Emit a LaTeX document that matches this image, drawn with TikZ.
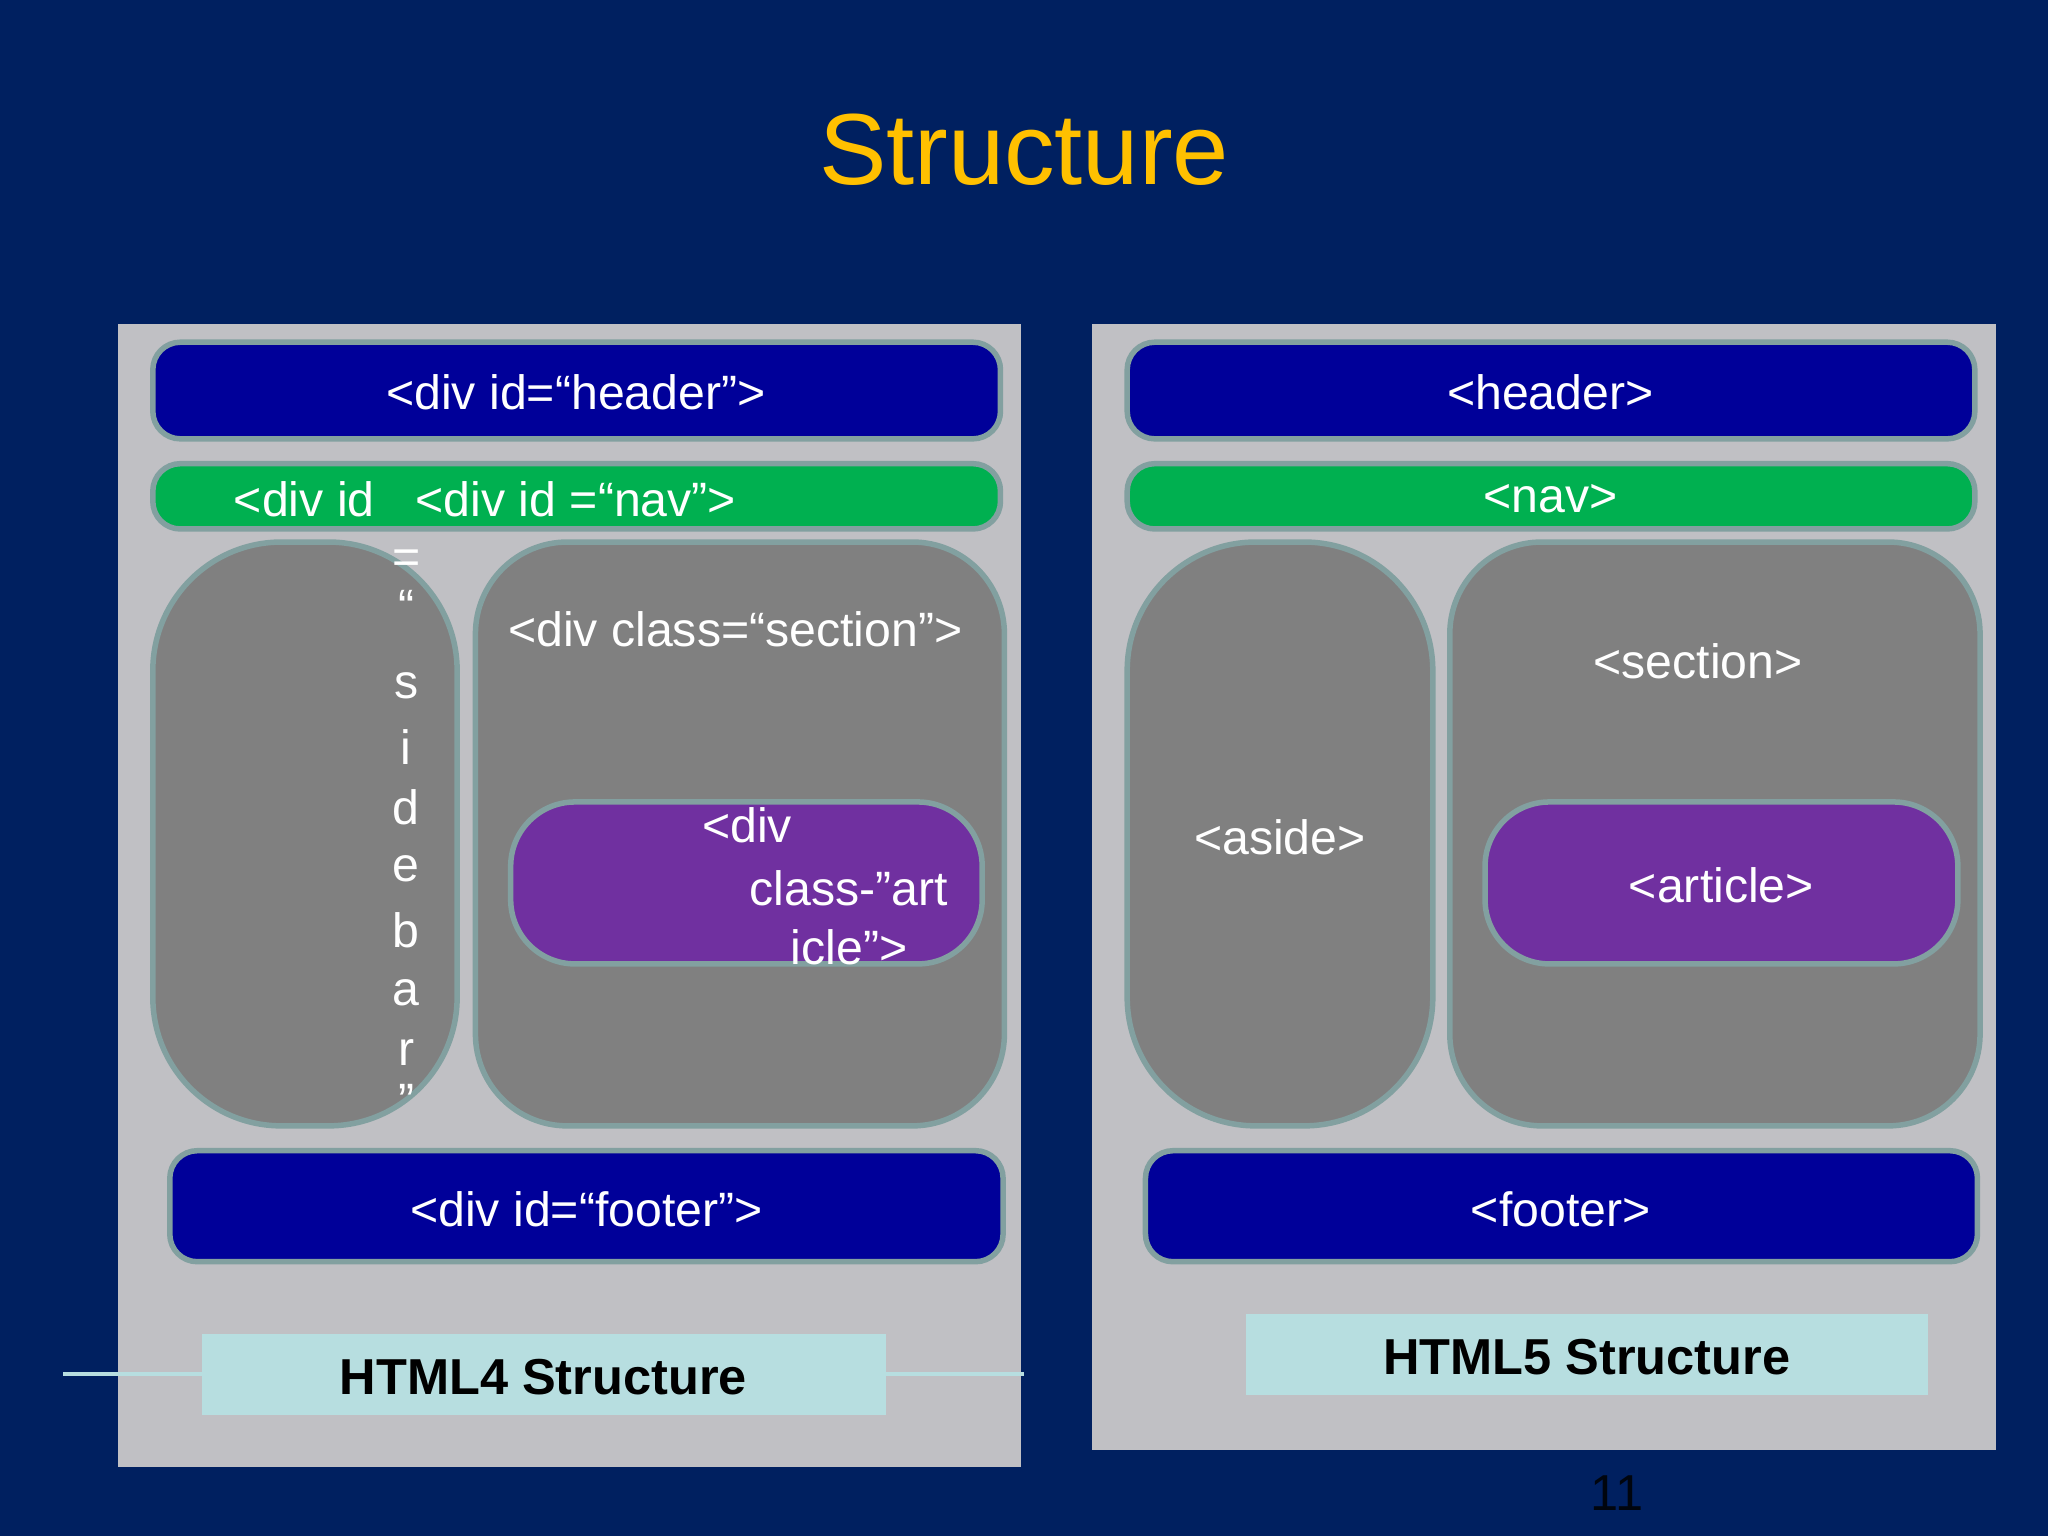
\documentclass[tikz,border=0pt]{standalone}
\usepackage{fontspec}
\setmainfont{Liberation Sans}
\begin{document}
\begin{tikzpicture}[x=0.01cm,y=-0.01cm,
 box/.style={draw=bd,line width=1.2pt,rounded corners=6pt,text=white,font=\fontsize{10.5}{12}\selectfont},
 panel/.style={fill=pan},
 lab/.style={fill=lab,font=\bfseries\fontsize{11}{13}\selectfont,text=black},
 t/.style={text=white,font=\fontsize{10.5}{12}\selectfont,inner sep=0pt}]
\definecolor{bg}{RGB}{0,32,96}
\definecolor{pan}{RGB}{192,192,196}
\definecolor{db}{RGB}{0,0,153}
\definecolor{gr}{RGB}{0,176,80}
\definecolor{gy}{RGB}{128,128,128}
\definecolor{pu}{RGB}{112,48,160}
\definecolor{lab}{RGB}{183,222,224}
\definecolor{bd}{RGB}{130,160,160}
\definecolor{yl}{RGB}{255,192,0}
\fill[bg] (0,0) rectangle (1568,1176);
\useasboundingbox (0,0) rectangle (1568,1176);
\node[text=yl,font=\fontsize{22}{26}\selectfont] (title) at (784,115) {Structure};
% left
\fill[panel] (90,248) rectangle (782,1123);
\draw[box,fill=db] (117,262) rectangle (766,336);
\node[t] (h4) at (441,300) {<div id=“header”>};
\draw[box,fill=gr] (117,355) rectangle (766,405);
\node[t] (n4a) at (233,382) {<div id};
\node[t] (n4b) at (441,382) {<div id =“nav”>};
\draw[box,fill=gy,rounded corners=28pt] (117,415) rectangle (350,862);
\draw[box,fill=gy,rounded corners=20pt] (364,415) rectangle (769,862);
\node[t] (s4) at (563,482) {<div class=“section”>};
\foreach \c/\y [count=\i] in {=/430,“/465,s/525,i/572,d/618,e/665,b/712,a/760,r/806,”/843}
  \node[t] (sb\i) at (311,\y) {\c};
\draw[box,fill=pu,rounded corners=14pt] (391,614) rectangle (752,738);
\node[t] (a4a) at (572,632) {<div};
\node[t] (a4b) at (650,680) {class-”art};
\node[t] (a4c) at (650,725) {icle”>};
\draw[box,fill=db] (130,881) rectangle (768,966);
\node[t] (f4) at (449,926) {<div id=“footer”>};
\node[lab,minimum width=523\pgflinewidth,inner sep=0pt] (l4) at (416,1052) {};
\fill[lab] (155,1021) rectangle (678,1083);
\node[font=\bfseries\fontsize{11}{13}\selectfont] (l4t) at (416,1054) {HTML4 Structure};
% right
\fill[panel] (836,248) rectangle (1528,1110);
\draw[box,fill=db] (863,262) rectangle (1512,336);
\node[t] (h5) at (1187,300) {<header>};
\draw[box,fill=gr] (863,355) rectangle (1512,405);
\node[t] (n5) at (1187,382) {<nav>};
\draw[box,fill=gy,rounded corners=28pt] (863,415) rectangle (1097,862);
\node[t] (as) at (980,641) {<aside>};
\draw[box,fill=gy,rounded corners=20pt] (1110,415) rectangle (1516,862);
\node[t] (s5) at (1300,506) {<section>};
\draw[box,fill=pu,rounded corners=14pt] (1137,614) rectangle (1499,738);
\node[t] (ar) at (1318,678) {<article>};
\draw[box,fill=db] (877,881) rectangle (1514,966);
\node[t] (f5) at (1195,926) {<footer>};
\fill[lab] (954,1006) rectangle (1476,1068);
\node[font=\bfseries\fontsize{11}{13}\selectfont] (l5t) at (1215,1039) {HTML5 Structure};
\node[text=black!85!bg,font=\fontsize{11}{13}\selectfont] (pg) at (1238,1143) {11};
\end{tikzpicture}
\end{document}
